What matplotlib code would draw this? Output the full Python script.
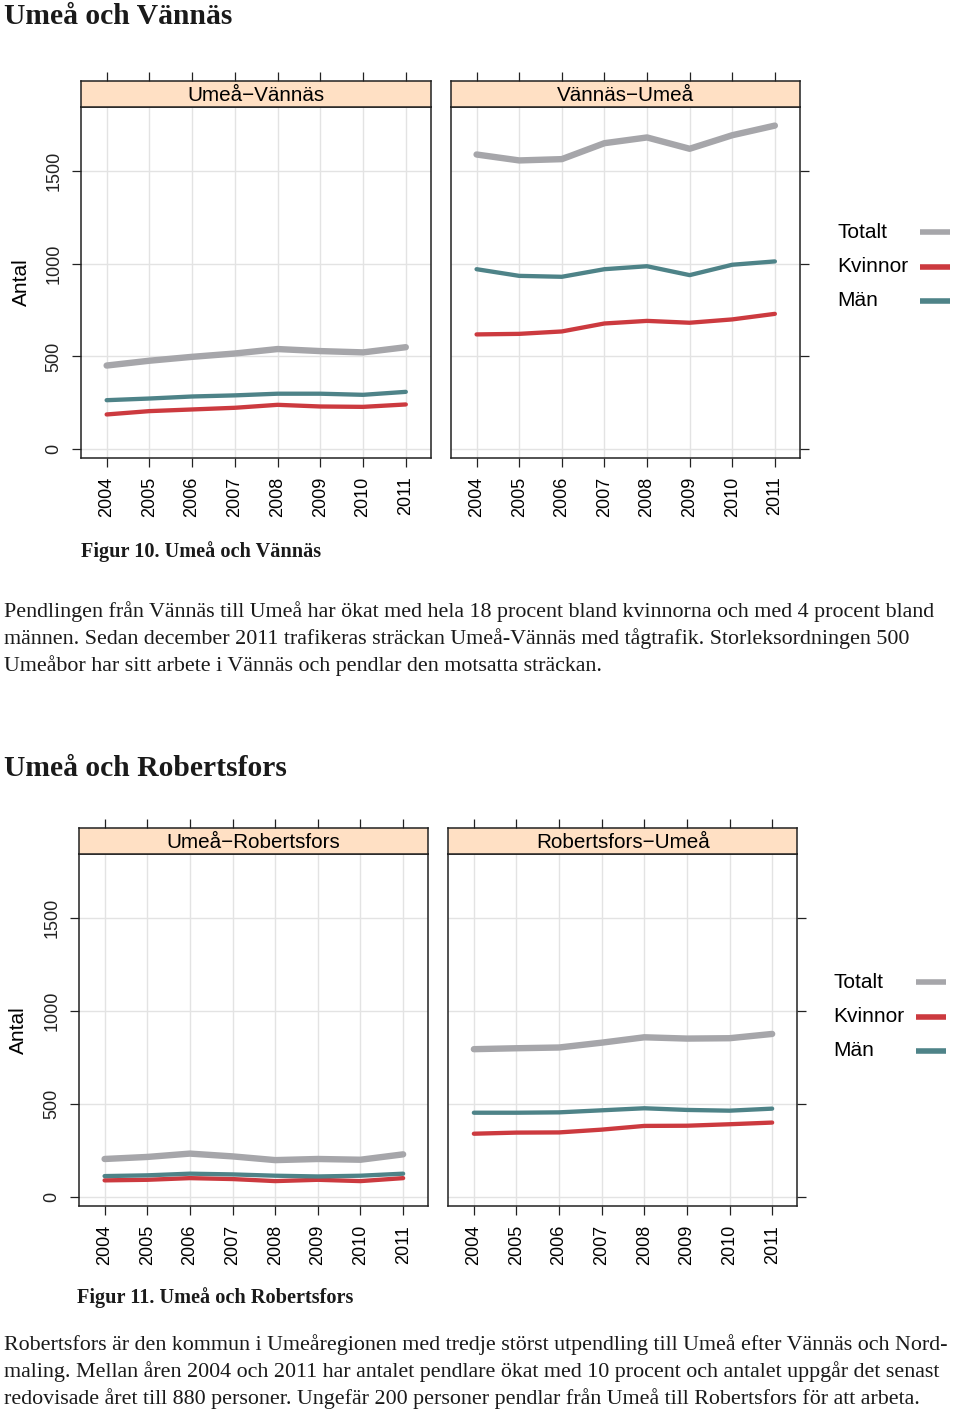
import matplotlib
matplotlib.use("Agg")
import matplotlib.pyplot as plt

W, H = 960, 1409
years = [2004, 2005, 2006, 2007, 2008, 2009, 2010, 2011]
series_names = ["Totalt", "Kvinnor", "Män"]

# Umeå och Vännäs
umea_vannas_totalt = [451, 477, 498, 516, 540, 529, 522, 550]
umea_vannas_kvinnor = [187, 205, 214, 223, 239, 230, 228, 241]
umea_vannas_man = [264, 273, 284, 290, 299, 299, 293, 309]
vannas_umea_totalt = [1590, 1558, 1565, 1651, 1682, 1621, 1694, 1746]
vannas_umea_kvinnor = [619, 622, 635, 678, 692, 682, 700, 730]
vannas_umea_man = [971, 935, 930, 971, 987, 939, 995, 1013]

# Umeå och Robertsfors
umea_robertsfors_totalt = [205, 216, 234, 219, 199, 205, 201, 230]
umea_robertsfors_kvinnor = [90, 93, 102, 97, 86, 93, 86, 102]
umea_robertsfors_man = [113, 117, 126, 122, 115, 111, 115, 126]
robertsfors_umea_totalt = [796, 801, 805, 831, 860, 853, 855, 878]
robertsfors_umea_kvinnor = [341, 347, 348, 363, 383, 384, 392, 401]
robertsfors_umea_man = [454, 454, 456, 467, 478, 469, 465, 476]

y_ticks = [0, 500, 1000, 1500]

colors = {"Totalt": "#A6A6AA", "Kvinnor": "#CC3A3F", "Män": "#4E8388"}
widths = {"Totalt": 4.6, "Kvinnor": 3.1, "Män": 3.1}
STRIP_BG = "#FFE0C4"
GRID = "#E3E3E3"

SANS = ["Liberation Sans", "DejaVu Sans"]
SERIF = ["Liberation Serif", "DejaVu Serif"]

fig = plt.figure(figsize=(W / 100, H / 100), dpi=100)
fig.patch.set_facecolor("white")


def rect(l, t, r, b):
    return [l / W, 1 - b / H, (r - l) / W, (b - t) / H]


def fy(y):
    return 1 - y / H


def fx(x):
    return x / W


def block(panels, strip_top, strip_bot, panel_bot, lefts, rights, legend_x, legend_y0, antal_x):
    for i, (title, data) in enumerate(panels):
        l, r = lefts[i], rights[i]
        ax = fig.add_axes(rect(l, strip_bot, r, panel_bot))
        ax.set_xlim(2003.40, 2011.59)
        ax.set_ylim(-48, 1848)
        for v in y_ticks:
            ax.axhline(v, color=GRID, lw=1.0, zorder=0)
        for yv in years:
            ax.axvline(yv, color=GRID, lw=1.0, zorder=0)
        for name, vals in zip(series_names, data):
            ax.plot(years, vals, color=colors[name], lw=widths[name],
                    solid_capstyle="round", solid_joinstyle="round", zorder=3)
        for s in ax.spines.values():
            s.set_linewidth(1.1)
            s.set_color("#222222")
        ax.set_xticks(years)
        ax.set_xticklabels([str(y) for y in years], rotation=90, family=SANS, fontsize=13)
        ax.set_yticks(y_ticks)
        ax.tick_params(axis="both", direction="out", length=6.5, width=0.9, colors="#222222", pad=7)
        ax.tick_params(axis="x", labelcolor="black")
        if i == 0:
            ax.tick_params(axis="y", left=True, right=False, labelleft=True, labelright=False)
            ax.set_yticklabels([str(v) for v in y_ticks], rotation=90, va="center",
                               family=SANS, fontsize=13)
        else:
            ax.tick_params(axis="y", left=False, right=True, labelleft=False, labelright=False)
        ax.set_facecolor("white")

        sx = fig.add_axes(rect(l, strip_top, r, strip_bot))
        sx.set_facecolor(STRIP_BG)
        sx.set_xlim(2003.40, 2011.59)
        sx.set_ylim(0, 1)
        sx.set_xticks(years)
        sx.set_yticks([])
        sx.tick_params(axis="x", top=True, bottom=False, labeltop=False, labelbottom=False,
                       direction="out", length=6.5, width=0.9, colors="#222222")
        for s in sx.spines.values():
            s.set_linewidth(1.1)
            s.set_color("#222222")
        sx.text(0.5, 0.45, title, transform=sx.transAxes, ha="center", va="center",
                family=SANS, fontsize=14.9, color="black")

    # y label
    fig.text(fx(antal_x), fy((strip_bot + panel_bot) / 2), "Antal", rotation=90,
             ha="center", va="center", family=SANS, fontsize=15)

    # legend
    for k, name in enumerate(series_names):
        yy = legend_y0 + k * 34.5
        fig.text(fx(legend_x), fy(yy), name, ha="left", va="center", family=SANS, fontsize=15)
        fig.add_artist(plt.Line2D([fx(legend_x + 83), fx(legend_x + 113)], [fy(yy), fy(yy)],
                                  transform=fig.transFigure, color=colors[name], lw=4.0,
                                  solid_capstyle="butt"))


block([("Umeå\u2212Vännäs", [umea_vannas_totalt, umea_vannas_kvinnor, umea_vannas_man]),
       ("Vännäs\u2212Umeå", [vannas_umea_totalt, vannas_umea_kvinnor, vannas_umea_man])],
      strip_top=81, strip_bot=106.7, panel_bot=458,
      lefts=[81, 451], rights=[431, 800], legend_x=837, legend_y0=232, antal_x=21)

block([("Umeå\u2212Robertsfors", [umea_robertsfors_totalt, umea_robertsfors_kvinnor, umea_robertsfors_man]),
       ("Robertsfors\u2212Umeå", [robertsfors_umea_totalt, robertsfors_umea_kvinnor, robertsfors_umea_man])],
      strip_top=828.3, strip_bot=853.7, panel_bot=1206,
      lefts=[79, 448.3], rights=[428.3, 797.3], legend_x=833, legend_y0=982, antal_x=18)

# Headings and captions
fig.text(fx(4), fy(24), "Umeå och Vännäs", family=SERIF, weight="bold", fontsize=21.3,
         ha="left", va="baseline", color="#1a1a1a")
fig.text(fx(81), fy(557), "Figur 10. Umeå och Vännäs", family=SERIF, weight="bold", fontsize=14.6,
         ha="left", va="baseline", color="#1a1a1a")
fig.text(fx(4), fy(776), "Umeå och Robertsfors", family=SERIF, weight="bold", fontsize=21.3,
         ha="left", va="baseline", color="#1a1a1a")
fig.text(fx(77), fy(1303), "Figur 11. Umeå och Robertsfors", family=SERIF, weight="bold", fontsize=14.6,
         ha="left", va="baseline", color="#1a1a1a")

para1 = [
    "Pendlingen från Vännäs till Umeå har ökat med hela 18 procent bland kvinnorna och med 4 procent bland",
    "männen. Sedan december 2011 trafikeras sträckan Umeå-Vännäs med tågtrafik. Storleksordningen 500",
    "Umeåbor har sitt arbete i Vännäs och pendlar den motsatta sträckan.",
]
para2 = [
    "Robertsfors är den kommun i Umeåregionen med tredje störst utpendling till Umeå efter Vännäs och Nord-",
    "maling. Mellan åren 2004 och 2011 har antalet pendlare ökat med 10 procent och antalet uppgår det senast",
    "redovisade året till 880 personer. Ungefär 200 personer pendlar från Umeå till Robertsfors för att arbeta.",
]
for k, line in enumerate(para1):
    fig.text(fx(4), fy(617 + 27 * k), line, family=SERIF, fontsize=15.8,
             ha="left", va="baseline", color="#1a1a1a")
for k, line in enumerate(para2):
    fig.text(fx(4), fy(1350 + 27 * k), line, family=SERIF, fontsize=15.8,
             ha="left", va="baseline", color="#1a1a1a")

fig.savefig("out.png", dpi=100, facecolor="white")
